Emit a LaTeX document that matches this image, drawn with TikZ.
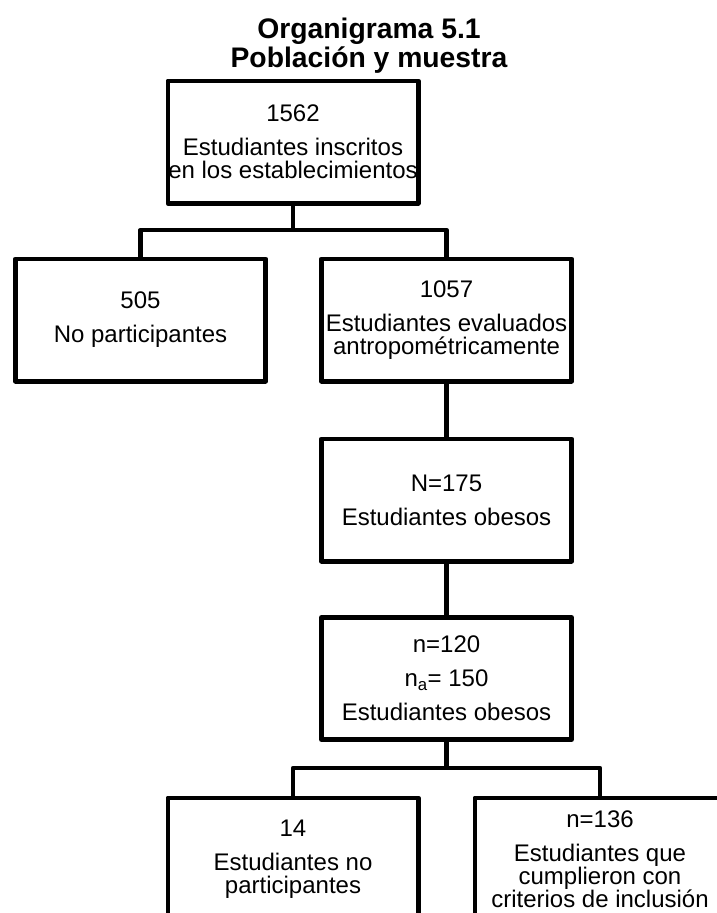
\documentclass[tikz,border=0pt]{standalone}
\usepackage{fontspec}
\setmainfont{Liberation Sans}
\begin{document}
\begin{tikzpicture}[x=1pt,y=-1pt,
  box/.style={draw=black, line width=4.8pt, line join=round,
    minimum width=250.2pt, minimum height=122.2pt, inner sep=0pt,
    align=center, font=\fontsize{24}{23}\selectfont},
  link/.style={draw=black, line width=4.8pt, line join=round},
  heading/.style={inner sep=0pt, anchor=base,
    font=\fontsize{28.3}{26}\selectfont\bfseries}]
  \useasboundingbox (0,0) rectangle (716,913);

  % title, two lines
  \node[heading] (title) at (369,38) {Organigrama 5.1};
  \node[heading] (subtitle) at (369,67) {Población y muestra};

  % boxes
  \node[box] (total) at (293,142)
    {1562\\[11pt]Estudiantes inscritos\\en los establecimientos};
  \node[box] (nopart) at (140.5,320) {505\\[11pt]No participantes};
  \node[box] (eval) at (446.5,320)
    {1057\\[11pt]Estudiantes evaluados\\antropométricamente};
  \node[box] (obese) at (446.5,500) {N=175\\[11pt]Estudiantes obesos};
  \node[box] (sample) at (446.5,678.5)
    {n=120\\[11pt]n\textsubscript{a}= 150\\[11pt]Estudiantes obesos};
  \node[box] (dropped) at (293,859)
    {14\\[11pt]Estudiantes no\\participantes};
  \node[box] (included) at (600,859)
    {n=136\\[11pt]Estudiantes que\\cumplieron con\\criterios de inclusión};

  % branching levels
  \coordinate (split1) at (0,230);
  \coordinate (split2) at (0,768);

  % connectors
  \draw[link] (total.south) -- (total.south |- split1) -| (nopart.north);
  \draw[link] (total.south |- split1) -| (eval.north);
  \draw[link] (eval.south) -- (obese.north);
  \draw[link] (obese.south) -- (sample.north);
  \draw[link] (sample.south) -- (sample.south |- split2) -| (dropped.north);
  \draw[link] (sample.south |- split2) -| (included.north);
\end{tikzpicture}
\end{document}
